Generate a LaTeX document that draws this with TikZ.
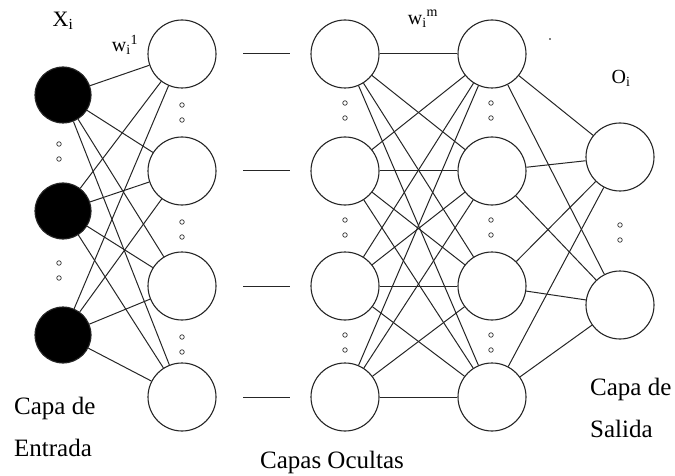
\documentclass[tikz,border=0pt]{standalone}
\usepackage{fontspec}
\setmainfont{Liberation Serif}
\usetikzlibrary{positioning}
\tikzset{
  neuron/.style={circle,draw=black!85,line width=1.1pt,minimum size=#1,inner sep=0pt},
  neuron/.default=68pt,
  input/.style={neuron=56pt,fill=black},
  link/.style={draw=black!85,line width=1pt},
  ring/.style={circle,draw=black!80,line width=0.7pt,minimum size=4.5pt,inner sep=0pt},
  lbl/.style={font=\fontsize{25}{42}\selectfont,align=left,inner sep=0pt},
  sym/.style={font=\fontsize{#1}{#1}\selectfont,inner sep=0pt},
  sym/.default=21,
}
\begin{document}
\begin{tikzpicture}[x=1pt,y=-1pt]
  \useasboundingbox (0,0) rectangle (675,476);
  % capa de entrada
  \foreach \i/\y in {1/95,2/211,3/335} \node[input] (x\i) at (63,\y) {};
  \foreach \k/\y in {1/144,2/159,3/263,4/278} \node[ring] (rx\k) at (59,\y) {};
  % capas ocultas
  \foreach \i/\y in {1/54,2/171,3/286,4/397} {
    \node[neuron] (a\i) at (182,\y) {};
    \node[neuron] (b\i) at (345,\y) {};
    \node[neuron] (c\i) at (492,\y) {};
    \coordinate (d\i) at (243,\y); \coordinate (e\i) at (290,\y);
    \draw[link] (d\i) -- (e\i);
  }
  \foreach \k/\y in {1/54,2/171,3/286} {
    \node[ring] (ra\k) at (182,\y+51) {}; \node[ring] (sa\k) at (182,\y+66) {};
    \node[ring] (rb\k) at (345,\y+49) {}; \node[ring] (sb\k) at (345,\y+64) {};
    \node[ring] (rc\k) at (491,\y+49) {}; \node[ring] (sc\k) at (491,\y+64) {};
  }
  % capa de salida
  \foreach \i/\y in {1/157,2/305} \node[neuron] (o\i) at (620,\y) {};
  \node[ring] (ro1) at (620,225) {}; \node[ring] (ro2) at (620,240) {};
  % conexiones
  \foreach \i in {1,2,3} \foreach \j in {1,...,4} \draw[link] (x\i) -- (a\j);
  \foreach \i in {1,...,4} \foreach \j in {1,...,4} \draw[link] (b\i) -- (c\j);
  \foreach \i in {1,...,4} \foreach \j in {1,2} \draw[link] (c\i) -- (o\j);
  % etiquetas
  \node[sym=22] (xl) at (63,21) {X\textsubscript{i}};
  \node[sym=20] (wl) at (125,45) {w\textsubscript{i}\textsuperscript{1}};
  \node[sym=20] (wm) at (423,19) {w\textsubscript{i}\textsuperscript{m}};
  \node[sym=20] (ol) at (621,78) {O\textsubscript{i}};
  \fill (550,39) circle (0.8);
  \node[lbl,anchor=west] (ent) at (14,427) {Capa de\\Entrada};
  \node[lbl] (ocu) at (332,462) {Capas Ocultas};
  \node[lbl,anchor=west] (sal) at (590,408) {Capa de\\Salida};
\end{tikzpicture}
\end{document}
